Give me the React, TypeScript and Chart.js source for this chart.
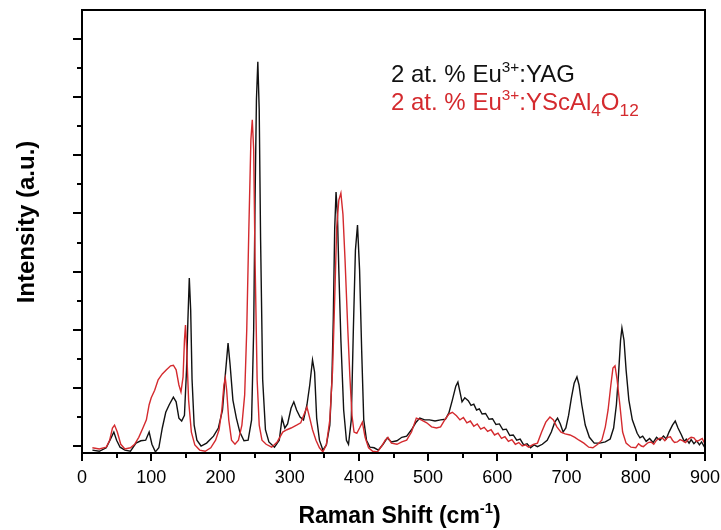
import React, { useEffect, useRef } from "react";
import { Chart, registerables } from "chart.js";

Chart.register(...registerables);

// ---------- data ----------
const xTickValues = [0, 100, 200, 300, 400, 500, 600, 700, 800, 900];
const yMajorTicks = [0, 1, 2, 3, 4, 5, 6, 7];

const seriesLabels = ["2 at. % Eu3+:YAG", "2 at. % Eu3+:YScAl4O12"];

const yagShift = [
  15, 25, 35, 42, 46, 50, 55, 62, 70, 78, 85, 92, 97, 101, 106, 111, 116, 121, 126, 132,
  136, 140, 144, 148, 151, 153, 155, 157, 159, 162, 166, 172, 180, 190, 197, 203, 207, 211, 214, 218,
  223, 228, 234, 240, 245, 248, 250, 252, 254, 256, 258, 261, 265, 270, 278, 285, 289, 293, 297, 302,
  306, 310, 315, 320, 325, 329, 333, 336, 339, 343, 348, 353, 358, 361, 363, 365, 367, 369, 371, 374,
  378, 382, 385, 389, 392, 395, 398, 401, 404, 407, 411, 416, 422, 428, 435, 441, 447, 455, 462, 469,
  476, 482, 488, 495, 502, 510, 518, 525, 530, 535, 540, 543, 546, 549, 553,
  558, 562, 566, 570, 574, 578, 583, 588, 593, 598, 603, 608, 613, 618, 623, 628, 633, 638, 643, 648, 653, 658, 665,
  672, 678, 683, 687, 691, 695, 699, 703, 707, 711, 715, 718, 722, 727, 733, 740, 748, 756, 763, 768,
  772, 775, 778, 780, 783, 786, 790, 795, 802, 806, 810, 815, 820, 825, 830, 835, 840, 844, 848, 853,
  857, 861, 866, 870, 873, 877, 880, 884, 888, 892, 895, 900,
];
const yagIntensity = [
  -0.07, -0.09, -0.03, 0.14, 0.24, 0.1, -0.02, -0.07, -0.09, 0.05, 0.09, 0.1, 0.24, 0.03, -0.1, -0.03, 0.31, 0.58, 0.71, 0.84,
  0.76, 0.48, 0.43, 0.53, 1.31, 2.17, 2.89, 2.34, 1.14, 0.36, 0.1, 0.0, 0.05, 0.17, 0.31, 0.62, 1.22, 1.77, 1.39, 0.79,
  0.48, 0.24, 0.09, 0.1, 0.45, 2.0, 4.23, 5.96, 6.61, 5.79, 3.55, 1.14, 0.28, 0.07, -0.02, 0.1, 0.48, 0.31, 0.38, 0.65,
  0.76, 0.62, 0.5, 0.45, 0.71, 1.05, 1.48, 1.27, 0.48, 0.1, -0.07, 0.02, 0.36, 1.14, 2.17, 3.72, 4.37, 3.98, 3.03, 1.82,
  0.62, 0.1, 0.03, 0.45, 2.0, 3.37, 3.8, 3.03, 1.65, 0.45, 0.1, -0.02, -0.03, -0.07, 0.03, 0.14, 0.07, 0.09, 0.15, 0.17,
  0.28, 0.4, 0.48, 0.45, 0.45, 0.43, 0.45, 0.46, 0.57, 0.79, 1.03, 1.1, 0.93, 0.76, 0.83,
  0.78, 0.7, 0.72, 0.62, 0.64, 0.55, 0.56, 0.46, 0.47, 0.37, 0.38, 0.28, 0.29, 0.18, 0.19, 0.1, 0.12, 0.02, 0.04, -0.03, 0.02, -0.01, 0.03,
  0.1, 0.24, 0.41, 0.48, 0.38, 0.24, 0.31, 0.53, 0.83, 1.08, 1.19, 1.05, 0.71, 0.36, 0.15, 0.05, 0.05, 0.07, 0.12, 0.31,
  0.71, 1.22, 1.82, 2.03, 1.82, 1.31, 0.79, 0.45, 0.22, 0.14, 0.17, 0.08, 0.13, 0.06, 0.15, 0.1, 0.17, 0.12, 0.24, 0.36,
  0.43, 0.31, 0.19, 0.08, 0.12, 0.05, 0.11, 0.04, 0.09, 0.02, 0.07, -0.03,
];

const ysaShift = [
  15, 25, 35, 40, 44, 47, 51, 56, 62, 70, 76, 82, 88, 93, 97, 100, 105, 110, 116, 122,
  128, 132, 136, 140, 143, 146, 148, 149.5, 151, 154, 158, 163, 170, 178, 186, 193, 198, 202, 205, 207,
  209, 212, 216, 221, 226, 231, 235, 238, 241, 244, 246, 248, 250, 253, 256, 260, 266, 274, 282, 290,
  296, 302, 310, 316, 321, 325, 329, 333, 338, 343, 348, 353, 358, 362, 365, 368, 371, 374, 377, 380,
  384, 387, 390, 393, 397, 401, 405, 409, 414, 420, 427, 433, 438, 442, 447, 455, 462, 469, 476, 483,
  490, 498, 505, 512, 518, 524, 530, 535, 541, 546, 551, 556, 561, 566, 571, 576, 581, 586, 591, 596,
  601, 606, 611, 616, 621, 626, 631, 636, 641, 645,
  652, 658, 664, 670, 676, 681, 686, 692, 698, 705, 712, 718, 725, 732, 738, 745, 751, 756, 760, 764,
  767, 770, 773, 777, 781, 786, 793, 800, 804, 808, 811, 815, 818, 822, 826, 830, 834, 838, 842, 846,
  850, 853, 856, 860, 864, 868, 872, 876, 880, 884, 888, 892, 896, 900,
];
const ysaIntensity = [
  -0.03, -0.05, -0.02, 0.1, 0.31, 0.36, 0.24, 0.03, -0.05, -0.03, 0.03, 0.15, 0.31, 0.45, 0.71, 0.83, 0.96, 1.14, 1.24, 1.31,
  1.38, 1.39, 1.31, 1.05, 0.93, 1.19, 1.82, 2.08, 1.72, 0.79, 0.24, 0.02, -0.07, -0.09, -0.03, 0.1, 0.28, 0.62, 1.05, 1.17,
  0.96, 0.45, 0.1, 0.03, 0.1, 0.36, 0.88, 2.0, 3.72, 5.27, 5.61, 5.1, 3.2, 1.14, 0.36, 0.1, 0.03, -0.02, 0.07, 0.24,
  0.28, 0.31, 0.36, 0.4, 0.55, 0.67, 0.48, 0.28, 0.1, -0.03, -0.1, 0.02, 0.45, 1.31, 2.51, 3.77, 4.23, 4.35, 3.98, 3.2,
  2.0, 1.19, 0.53, 0.24, 0.22, 0.31, 0.41, 0.15, -0.03, -0.09, -0.1, 0.0, 0.1, 0.15, 0.05, 0.03, 0.07, 0.1, 0.24, 0.48,
  0.45, 0.4, 0.33, 0.31, 0.33, 0.45, 0.55, 0.58, 0.52, 0.45, 0.49, 0.4, 0.43, 0.34, 0.38, 0.29, 0.32, 0.25, 0.28, 0.19,
  0.22, 0.13, 0.16, 0.08, 0.11, 0.03, 0.06, 0.0, 0.02, -0.02,
  0.03, 0.05, 0.24, 0.41, 0.5, 0.45, 0.33, 0.24, 0.21, 0.19, 0.15, 0.1, 0.05, -0.02, -0.03, 0.03, 0.1, 0.33, 0.62, 1.05,
  1.34, 1.38, 1.14, 0.71, 0.24, 0.05, -0.02, -0.03, 0.04, 0.0, -0.01, 0.03, 0.06, 0.07, 0.03, 0.1, 0.13, 0.14, 0.09, 0.15,
  0.16, 0.1, 0.06, 0.07, 0.11, 0.09, 0.06, 0.12, 0.15, 0.14, 0.08, 0.1, 0.13, 0.03,
];

// ---------- styling helpers ----------
const FONT = '"Liberation Sans", Arial, Helvetica, sans-serif';
const RED = "#d42a2e";
const BLACK = "#111111";

type Part = { t: string; m?: "sup" | "sub" };

function partSize(p: Part, size: number) {
  if (p.m === "sup") return size * 0.64;
  if (p.m === "sub") return size * 0.72;
  return size;
}

function richWidth(ctx: CanvasRenderingContext2D, parts: Part[], size: number, bold: boolean) {
  let w = 0;
  for (const p of parts) {
    ctx.font = `${bold ? "bold " : ""}${partSize(p, size)}px ${FONT}`;
    w += ctx.measureText(p.t).width;
  }
  return w;
}

function drawRich(
  ctx: CanvasRenderingContext2D,
  parts: Part[],
  x: number,
  y: number,
  size: number,
  color: string,
  bold: boolean
) {
  ctx.fillStyle = color;
  ctx.textBaseline = "alphabetic";
  ctx.textAlign = "left";
  let cx = x;
  for (const p of parts) {
    ctx.font = `${bold ? "bold " : ""}${partSize(p, size)}px ${FONT}`;
    let dy = 0;
    if (p.m === "sup") dy = -size * 0.42;
    if (p.m === "sub") dy = size * 0.25;
    ctx.fillText(p.t, cx, y + dy);
    cx += ctx.measureText(p.t).width;
  }
}

const framePlugin = {
  id: "frame",
  afterDatasetsDraw(chart: any) {
    const { ctx, chartArea, scales } = chart;
    const { left, right, top, bottom } = chartArea;
    const xs = scales.x;
    const ys = scales.y;
    ctx.save();
    ctx.strokeStyle = "#000";
    ctx.lineWidth = 2;
    ctx.strokeRect(left, top, right - left, bottom - top);

    ctx.beginPath();
    // x ticks (major every 100, minor every 50)
    for (let v = xs.min; v <= xs.max; v += 50) {
      const px = Math.round(xs.getPixelForValue(v));
      const major = v % 100 === 0;
      ctx.moveTo(px, bottom);
      ctx.lineTo(px, bottom + (major ? 8 : 5));
    }
    // y ticks (no labels)
    for (let i = 0; i < yMajorTicks.length; i++) {
      const v = yMajorTicks[i];
      const py = Math.round(ys.getPixelForValue(v));
      ctx.moveTo(left, py);
      ctx.lineTo(left - 9, py);
      if (i < yMajorTicks.length - 1) {
        const pm = Math.round(ys.getPixelForValue(v + 0.5));
        ctx.moveTo(left, pm);
        ctx.lineTo(left - 5, pm);
      }
    }
    ctx.stroke();

    // axis titles
    const xTitle: Part[] = [{ t: "Raman Shift (cm" }, { t: "-1", m: "sup" }, { t: ")" }];
    const tw = richWidth(ctx, xTitle, 23, true);
    drawRich(ctx, xTitle, (left + right) / 2 - tw / 2 + 6, 523, 23, "#000", true);

    ctx.save();
    ctx.translate(34, 222);
    ctx.rotate(-Math.PI / 2);
    ctx.font = `bold 24px ${FONT}`;
    ctx.fillStyle = "#000";
    ctx.textAlign = "center";
    ctx.textBaseline = "alphabetic";
    ctx.fillText("Intensity (a.u.)", 0, 0);
    ctx.restore();

    // legend text
    const l1: Part[] = [{ t: "2 at. % Eu" }, { t: "3+", m: "sup" }, { t: ":YAG" }];
    const l2: Part[] = [
      { t: "2 at. % Eu" },
      { t: "3+", m: "sup" },
      { t: ":YScAl" },
      { t: "4", m: "sub" },
      { t: "O" },
      { t: "12", m: "sub" },
    ];
    drawRich(ctx, l1, 391, 82, 24, BLACK, false);
    drawRich(ctx, l2, 391, 110, 24, RED, false);
    ctx.restore();
  },
};

export default function App() {
  const ref = useRef<HTMLCanvasElement>(null);

  useEffect(() => {
    document.body.style.margin = "0";
    const canvas = ref.current;
    if (!canvas) return;
    const chart = new Chart(canvas, {
      type: "line",
      data: {
        datasets: [
          {
            label: seriesLabels[1],
            data: ysaShift.map((x, i) => ({ x, y: ysaIntensity[i] })),
            borderColor: RED,
            borderWidth: 1.4,
            pointRadius: 0,
            tension: 0,
            fill: false,
          },
          {
            label: seriesLabels[0],
            data: yagShift.map((x, i) => ({ x, y: yagIntensity[i] })),
            borderColor: BLACK,
            borderWidth: 1.4,
            pointRadius: 0,
            tension: 0,
            fill: false,
          },
        ],
      },
      options: {
        responsive: false,
        animation: false,
        events: [],
        layout: { padding: { left: 0, right: 16, top: 10, bottom: 0 } },
        plugins: { legend: { display: false }, tooltip: { enabled: false } },
        scales: {
          x: {
            type: "linear",
            min: 0,
            max: 900,
            afterFit: (s: any) => {
              s.height = 77;
              s.paddingLeft = 0;
              s.paddingRight = 0;
            },
            afterBuildTicks: (s: any) => {
              s.ticks = xTickValues.map((v) => ({ value: v }));
            },
            grid: { display: false, drawTicks: false },
            border: { display: false },
            ticks: {
              padding: 14,
              color: "#000",
              font: { family: FONT, size: 18 },
              maxRotation: 0,
              autoSkip: false,
            },
          },
          y: {
            type: "linear",
            min: -0.12,
            max: 7.5,
            afterFit: (s: any) => {
              s.width = 82;
              s.paddingTop = 0;
              s.paddingBottom = 0;
            },
            grid: { display: false, drawTicks: false },
            border: { display: false },
            ticks: { display: false },
          },
        },
      },
      plugins: [framePlugin],
    });
    return () => chart.destroy();
  }, []);

  return (
    <canvas
      ref={ref}
      width={721}
      height={530}
      style={{ display: "block", width: 721, height: 530 }}
    />
  );
}
